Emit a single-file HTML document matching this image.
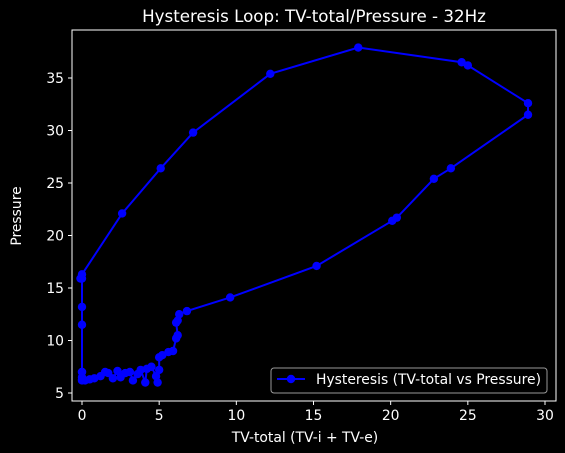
<!DOCTYPE html>
<html><head><meta charset="utf-8"><style>
html,body{margin:0;padding:0;background:#000;}
svg{display:block;font-family:"DejaVu Sans","Liberation Sans",sans-serif;}
</style></head><body>
<svg id="chart" width="565" height="453" viewBox="0 0 565 453">
<rect x="0" y="0" width="565" height="453" fill="#000"/>
<text x="314" y="22" fill="#fff" font-size="16.7" text-anchor="middle">Hysteresis Loop: TV-total/Pressure - 32Hz</text>
<g id="axes"></g>
<g id="series"></g>
<rect x="72" y="30" width="484" height="371" fill="none" stroke="#fff" stroke-width="1"/>
<text x="305" y="442" fill="#fff" font-size="13.9" text-anchor="middle">TV-total (TV-i + TV-e)</text>
<text x="17" y="216" fill="#fff" font-size="13.9" text-anchor="middle" dominant-baseline="middle" transform="rotate(-90 17 216)">Pressure</text>
<g>
<rect x="271" y="368" width="276" height="25" rx="3" fill="#000" stroke="#999"/>
<line x1="277" y1="379" x2="305" y2="379" stroke="#0000ff" stroke-width="2"/>
<circle cx="291" cy="379" r="4.2" fill="#0000ff"/>
<text x="316" y="384" fill="#fff" font-size="13.9">Hysteresis (TV-total vs Pressure)</text>
</g>
</svg>
<script>
const xTicks=[0,5,10,15,20,25,30];
const yTicks=[5,10,15,20,25,30,35];
const tvTotal=[0,0,0,0,0,-0.1,0,2.6,5.1,7.2,12.2,17.9,24.6,25.0,28.9,28.9,23.9,22.8,20.4,20.1,15.2,9.6,6.8,6.3,6.2,6.1,6.2,6.1,5.9,5.6,5.2,5.0,5.0,4.9,4.8,4.5,4.2,4.1,3.8,3.6,3.3,3.1,2.8,2.5,2.3,2.0,1.7,1.5,1.2,0.8,0.5,0.2,0,0,0];
const pressure=[6.3,7.0,11.5,13.2,15.9,15.9,16.3,22.1,26.4,29.8,35.4,37.9,36.5,36.2,32.6,31.5,26.4,25.4,21.7,21.4,17.1,14.1,12.8,12.5,11.9,11.7,10.5,10.2,9.0,8.9,8.6,8.4,7.2,6.0,6.6,7.5,7.3,6.0,7.2,6.8,6.2,7.0,6.9,6.5,7.1,6.4,6.9,7.0,6.6,6.4,6.3,6.2,6.5,7.0,6.2];
function X(v){return 82+v*(545-82)/30;}
function Y(v){return 393-(v-5)*(393-78)/30;}
const NS='http://www.w3.org/2000/svg';
const ax=document.getElementById('axes');
function mk(t,a,p){const e=document.createElementNS(NS,t);for(const k in a)e.setAttribute(k,a[k]);p.appendChild(e);return e;}
xTicks.forEach(t=>{
  const l=mk('line',{x1:X(t),x2:X(t),y1:401,y2:405,stroke:'#fff'},ax);
  
  
  const tx=mk('text',{x:X(t),y:420,fill:'#fff','font-size':13.9,'text-anchor':'middle'},ax);
  tx.textContent=t;
  
  
});
yTicks.forEach(t=>{
  const l=mk('line',{x1:68,x2:72,y1:Y(t),y2:Y(t),stroke:'#fff'},ax);
  
  
  const tx=mk('text',{x:64,y:Y(t)+5,fill:'#fff','font-size':13.9,'text-anchor':'end'},ax);
  tx.textContent=t;
  
  
});
const s=document.getElementById('series');
const pts=tvTotal.map((v,i)=>X(v)+','+Y(pressure[i])).join(' ');
const pl=mk('polyline',{points:pts,fill:'none',stroke:'#0000ff','stroke-width':2},s);


tvTotal.forEach((v,i)=>{
  const c=mk('circle',{cx:X(v),cy:Y(pressure[i]),r:4.2,fill:'#0000ff'},s);
  
  
});
</script>
</body></html>
